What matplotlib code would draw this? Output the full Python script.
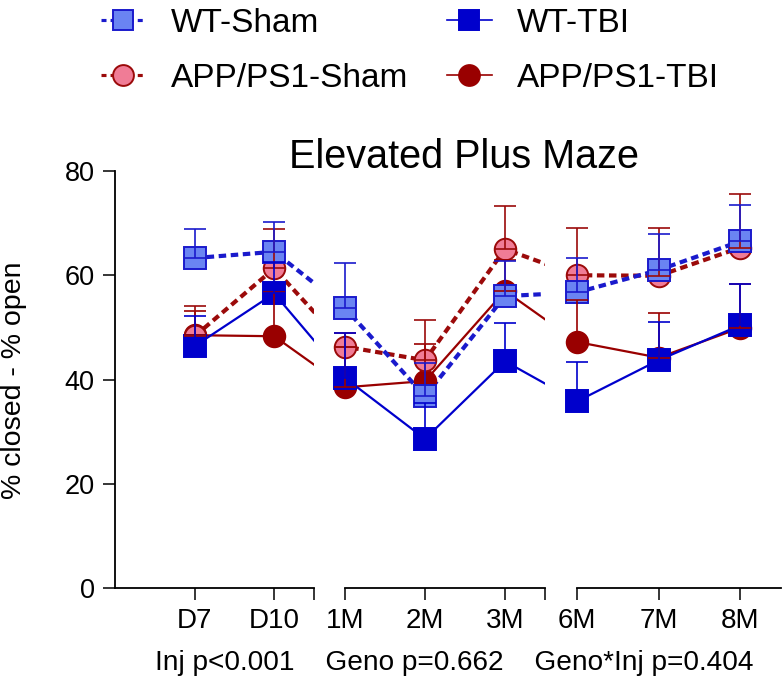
import matplotlib
matplotlib.use("Agg")
import matplotlib.pyplot as plt
from matplotlib import font_manager
from matplotlib.lines import Line2D

# noms des points de temps, par segment de l'axe x
segments = [["D7", "D10"], ["1M", "2M", "3M"], ["6M", "7M", "8M"]]

# moyennes (% closed - % open)
wt_sham = [63.3, 64.5, 53.7, 36.8, 56.0, 56.7, 61.0, 66.5]
wt_tbi = [46.4, 56.5, 40.3, 28.6, 43.5, 35.8, 43.7, 50.4]
app_sham = [48.3, 61.3, 46.3, 43.7, 65.0, 60.0, 59.9, 65.3]
app_tbi = [48.5, 48.3, 38.5, 39.7, 57.0, 47.2, 44.2, 49.9]

# barres d'erreur (vers le haut seulement)
wt_sham_err = [5.5, 5.8, 8.6, 6.4, 6.8, 6.7, 7.0, 7.0]
wt_tbi_err = [5.8, 6.0, 8.7, 6.9, 7.4, 7.5, 7.3, 7.9]
app_sham_err = [5.8, 7.5, 2.7, 7.7, 8.2, 9.0, 9.1, 10.2]
app_tbi_err = [4.6, 8.5, 7.8, 7.2, 6.0, 8.0, 8.5, 8.4]

stats_txt = "Inj p<0.001    Geno p=0.662    Geno*Inj p=0.404"

W, H = 784, 682

def has_font(name):
    try:
        font_manager.findfont(name, fallback_to_default=False)
        return True
    except Exception:
        return False

main_font = "Liberation Sans" if has_font("Liberation Sans") else "DejaVu Sans"
plt.rcParams["font.family"] = main_font

# (nom, valeurs, erreurs, couleur trait, remplissage, marqueur, pointillé, épaisseur, zorder)
series = [
    ("APP/PS1-TBI", app_tbi, app_tbi_err, "#990000", "#990000", "o", False, 1.6, 3),
    ("APP/PS1-Sham", app_sham, app_sham_err, "#9b0a0a", "#f07c96", "o", True, 3.0, 4),
    ("WT-TBI", wt_tbi, wt_tbi_err, "#0000cc", "#0000cc", "s", False, 1.6, 5),
    ("WT-Sham", wt_sham, wt_sham_err, "#1a1acc", "#6a84f2", "s", True, 3.0, 6),
]

# positions x : pas de 1 dans un segment, 0.9 entre segments
xpos = []
x = 1.0
for seg in segments:
    for lab in seg:
        xpos.append(x)
        x += 1.0
    x -= 0.1

# placement des axes en pixels (gauche, droite, xmin, xmax)
ax_px = [(115, 314, 0.0, 2.5), (345, 545, 2.9, 5.4), (577, 781, 5.8, 8.3)]
y_top, y_bot = 171, 588

fig = plt.figure(figsize=(W / 100, H / 100), dpi=100)

ms = 15.5
idx = 0
for k, (x0, x1, lo, hi) in enumerate(ax_px):
    ax = fig.add_axes([x0 / W, (H - y_bot) / H, (x1 - x0) / W, (y_bot - y_top) / H])
    ax.set_xlim(lo, hi)
    ax.set_ylim(0, 80)
    for s in ["top", "right"]:
        ax.spines[s].set_visible(False)
    ax.spines["bottom"].set_linewidth(1.3)
    ax.spines["left"].set_linewidth(1.3)
    if k > 0:
        ax.spines["left"].set_visible(False)
        ax.tick_params(axis="y", left=False, labelleft=False)
    else:
        ax.set_yticks([0, 20, 40, 60, 80])
        ax.tick_params(axis="y", length=8.5, width=1.1, pad=6, labelsize=19.5)
    seg = segments[k]
    sx = xpos[idx:idx + len(seg)]
    ticks = list(sx)
    labels = list(seg)
    if k < 2:
        ticks.append(hi)
        labels.append("")
    ax.set_xticks(ticks)
    ax.set_xticklabels(labels)
    ax.tick_params(axis="x", length=8.5, width=1.1, pad=6, labelsize=20)
    ax.patch.set_alpha(0)

    for name, vals, err, ec, fc, mk, dashed, lw, z in series:
        ls = (0, (1.8, 1.1)) if dashed else "-"
        ax.plot(xpos, vals, color=ec, lw=lw, ls=ls, zorder=2, clip_on=True)
        sv = vals[idx:idx + len(seg)]
        se = err[idx:idx + len(seg)]
        ax.plot(sx, sv, ls="none", marker=mk, ms=ms, mfc=fc, mec=ec, mew=1.4,
                zorder=z, clip_on=False)
        ax.errorbar(sx, sv, yerr=[[0] * len(se), se], fmt="none", ecolor=ec,
                    elinewidth=1.2, capsize=8, capthick=1.2, zorder=7, clip_on=False)
    idx += len(seg)

fig.text(464 / W, (H - 168) / H, "Elevated Plus Maze", fontsize=28.5,
         ha="center", va="baseline")
fig.text(14 / W, (H - 380) / H, "% closed - % open", fontsize=20.5, rotation=90,
         ha="center", va="center")
fig.text(454 / W, (H - 663) / H, stats_txt, fontsize=20.2, ha="center", va="center")

# légende : ordre colonne par colonne pour avoir WT en haut
order = ["WT-Sham", "APP/PS1-Sham", "WT-TBI", "APP/PS1-TBI"]
handles = []
for name in order:
    for s in series:
        if s[0] == name:
            _, _, _, ec, fc, mk, dashed, lw, _ = s
            ls = (0, (1.6, 1.3)) if dashed else "-"
            handles.append(Line2D([], [], color=ec, lw=lw * 0.75, ls=ls, marker=mk,
                                  ms=15, mfc=fc, mec=ec, mew=1.4, label=name))
fig.legend(handles=handles, ncol=2, loc="upper left",
           bbox_to_anchor=(101 / W, 1 - 8 / H), frameon=False, fontsize=24,
           handlelength=1.35, handletextpad=0.75, columnspacing=1.15,
           labelspacing=0.72, borderpad=0, borderaxespad=0)

fig.savefig("out.png", dpi=100)
